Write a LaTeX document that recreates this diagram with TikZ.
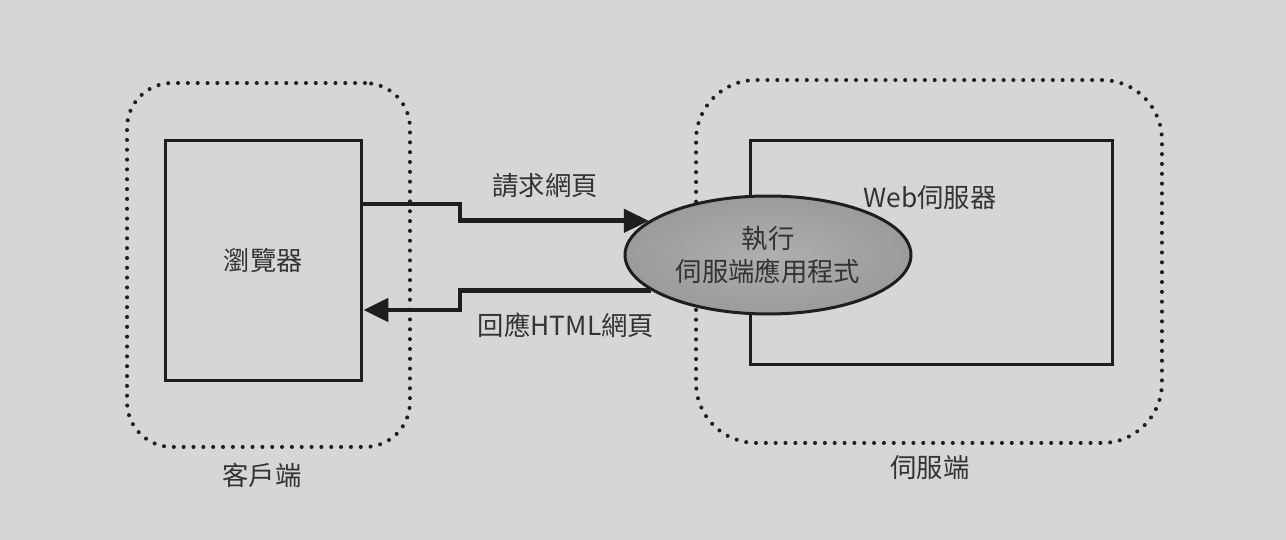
\documentclass[tikz,border=0pt]{standalone}
\usepackage{fontspec}
\setmainfont{Noto Sans CJK TC}
\usepackage{tikz}
\usetikzlibrary{arrows.meta,positioning,shapes.geometric}
\definecolor{paper}{HTML}{D4D7D4}
\definecolor{ink}{HTML}{1E1E1E}
\definecolor{txt}{HTML}{333333}
\definecolor{appgray}{HTML}{9A9C9A}
\definecolor{applight}{HTML}{AEB0AE}

\begin{document}
\begin{tikzpicture}[
        x=0.02cm, y=-0.02cm,
        zone/.style={
          draw=ink,
          line width=2.3pt,
          dash pattern=on 0pt off 5.6pt,
          line cap=round,
          rounded corners=#1,
          inner sep=0pt
        },
        block/.style={
          draw=ink,
          line width=1.7pt,
          inner sep=0pt,
          font=\fontsize{15}{18}\selectfont,
          text=txt
        },
        lbl/.style={font=\fontsize{15}{18}\selectfont, text=txt, inner sep=0pt},
        arrow/.style={-{Triangle[length=0.5cm,width=0.46cm]}, line width=2.8pt, draw=ink}
      ]
        \fill[paper] (0,0) rectangle (1286,540);

        % client side
        \node[zone=0.9cm, minimum width=5.66cm, minimum height=7.28cm] (client) at (268.5,265) {};
        \node[block, minimum width=3.94cm, minimum height=4.82cm] (browser) at (263.5,260.5) {瀏覽器};
        \node[lbl] (clientlbl) at (262,475) {客戶端};

        % server side
        \node[zone=1.2cm, minimum width=9.32cm, minimum height=7.26cm] (server) at (929,261.5) {};
        \node[block, minimum width=7.26cm, minimum height=4.5cm] (webserver) at (931.5,252.5) {};
        \node[lbl] (weblbl) at (930,198) {Web伺服器};
        \node[lbl] (serverlbl) at (930,468) {伺服端};

        \node[
          ellipse,
          draw=ink,
          line width=1.7pt,
          inner color=applight,
          outer color=appgray,
          minimum width=5.72cm,
          minimum height=2.36cm,
          inner sep=0pt,
          align=center,
          font=\fontsize{15}{19}\selectfont,
          text=txt
        ] (app) at (768,255) {執行\\伺服端應用程式};

        \draw[arrow] (browser.east |- 0,204) -- (460,204) |- (app.164);
        \draw[arrow] (app.197) -| (460,310) -- (browser.east |- 0,310);

        \node[lbl] (reqlbl) at (545,186) {請求網頁};
        \node[lbl] (resplbl) at (566,325) {回應HTML網頁};
      \end{tikzpicture}
\end{document}
